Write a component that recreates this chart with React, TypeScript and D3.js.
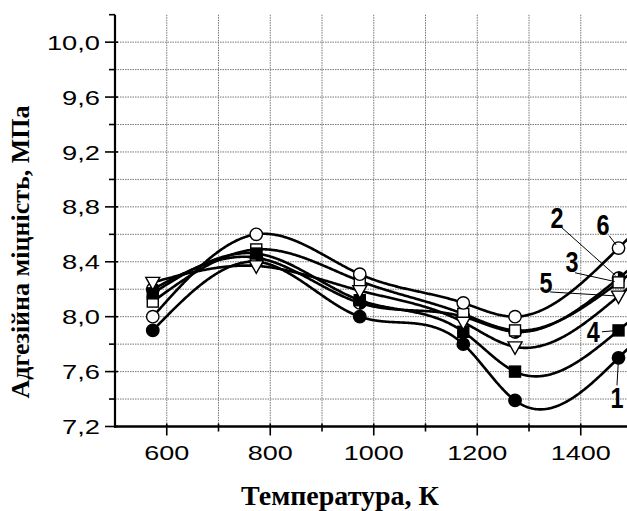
import { useEffect, useRef } from 'react'
import * as d3 from 'd3'

// temperatures, K
const temperatures = [573, 773, 973, 1173, 1273, 1473]

// adhesion strength, MPa (curves 1..6)
const curve1 = [7.9, 8.4, 8.0, 7.8, 7.39, 7.7]
const curve2 = [8.2, 8.43, 8.1, 8.0, 7.89, 8.28]
const curve3 = [8.11, 8.49, 8.26, 8.02, 7.9, 8.25]
const curve4 = [8.17, 8.46, 8.12, 7.89, 7.6, 7.9]
const curve5 = [8.25, 8.37, 8.19, 7.96, 7.78, 8.15]
const curve6 = [8.0, 8.6, 8.31, 8.1, 8.0, 8.5]

const curveNames = ['1', '2', '3', '4', '5', '6']
const markerKinds = ['dot', 'half', 'square', 'filledSquare', 'triangle', 'circle']

const xTickValues = [600, 800, 1000, 1200, 1400]
const yTickValues = [7.2, 7.6, 8.0, 8.4, 8.8, 9.2, 9.6, 10.0]

// curve number labels: text centre and start of the leader line, in data units
const labelT = [1470, 1354, 1383, 1424, 1333, 1443]
const labelV = [7.41, 8.72, 8.40, 7.89, 8.25, 8.67]
const leaderT = [1470, 1360, 1389, 1441, 1341, 1455]
const leaderV = [7.5, 8.66, 8.32, 7.89, 8.18, 8.59]

const xTitle = 'Температура, К'
const yTitle = 'Адгезійна міцність, МПа'

const W = 627
const H = 511

// natural cubic spline y(x) through the measured points (smoothed line like Origin)
function naturalSpline(xs: number[], ys: number[]) {
  const n = xs.length
  const h = d3.range(n - 1).map(i => xs[i + 1] - xs[i])
  const a = new Array(n).fill(0)
  const b = new Array(n).fill(1)
  const c = new Array(n).fill(0)
  const r = new Array(n).fill(0)
  for (let i = 1; i < n - 1; i++) {
    a[i] = h[i - 1]
    b[i] = 2 * (h[i - 1] + h[i])
    c[i] = h[i]
    r[i] = 6 * ((ys[i + 1] - ys[i]) / h[i] - (ys[i] - ys[i - 1]) / h[i - 1])
  }
  // Thomas algorithm
  for (let i = 1; i < n; i++) {
    const m = a[i] / b[i - 1]
    b[i] -= m * c[i - 1]
    r[i] -= m * r[i - 1]
  }
  const M = new Array(n).fill(0)
  M[n - 1] = r[n - 1] / b[n - 1]
  for (let i = n - 2; i >= 0; i--) M[i] = (r[i] - c[i] * M[i + 1]) / b[i]

  return (t: number) => {
    if (t >= xs[n - 1]) {
      const k = n - 2
      const slope = (ys[k + 1] - ys[k]) / h[k] + h[k] * (M[k] + 2 * M[k + 1]) / 6
      return ys[n - 1] + slope * (t - xs[n - 1])
    }
    let i = 0
    while (i < n - 2 && t > xs[i + 1]) i++
    const A = (xs[i + 1] - t) / h[i]
    const B = (t - xs[i]) / h[i]
    return A * ys[i] + B * ys[i + 1] +
      ((A * A * A - A) * M[i] + (B * B * B - B) * M[i + 1]) * h[i] * h[i] / 6
  }
}

export default function App() {
  const svgRef = useRef<SVGSVGElement>(null)

  useEffect(() => {
    if (!svgRef.current) return
    const svg = d3.select(svgRef.current)
    svg.selectAll('*').remove()

    const x = d3.scaleLinear().domain([500, 1500]).range([115, 632.5])
    const y = d3.scaleLinear().domain([7.2, 10.2]).range([426.5, 14.7])

    const series = [curve1, curve2, curve3, curve4, curve5, curve6].map((vals, i) => ({
      name: curveNames[i],
      kind: markerKinds[i],
      values: vals,
      points: vals.map((v, j) => [temperatures[j], v] as [number, number]),
    }))

    svg.append('rect').attr('width', W).attr('height', H).attr('fill', '#fff')

    // grid
    const grid = svg.append('g')
      .attr('stroke', '#777')
      .attr('stroke-width', 1)
      .attr('stroke-dasharray', '1.5,1')
    d3.range(600, 1500, 100).forEach(t => {
      grid.append('line')
        .attr('x1', x(t)).attr('x2', x(t))
        .attr('y1', y(10.2)).attr('y2', y(7.2))
    })
    d3.range(1, 15).map(k => 7.2 + k * 0.2).forEach(v => {
      grid.append('line')
        .attr('x1', x(500)).attr('x2', W)
        .attr('y1', y(v)).attr('y2', y(v))
    })

    // axes
    const axes = svg.append('g').attr('stroke', '#000')
    axes.append('line')
      .attr('x1', x(500)).attr('x2', x(500))
      .attr('y1', y(10.2)).attr('y2', y(7.2) + 1)
      .attr('stroke-width', 2.2)
    axes.append('line')
      .attr('x1', x(500) - 1).attr('x2', W)
      .attr('y1', y(7.2)).attr('y2', y(7.2))
      .attr('stroke-width', 2.5)

    d3.range(0, 16).map(k => 7.2 + k * 0.2).forEach((v, k) => {
      const major = k % 2 === 0
      axes.append('line')
        .attr('x1', x(500) - (major ? 10 : 6)).attr('x2', x(500) + (major ? 3 : 0))
        .attr('y1', y(v)).attr('y2', y(v))
        .attr('stroke-width', 1.6)
    })
    d3.range(600, 1500, 100).forEach((t, k) => {
      const major = k % 2 === 0
      axes.append('line')
        .attr('x1', x(t)).attr('x2', x(t))
        .attr('y1', y(7.2) - 3).attr('y2', y(7.2) + (major ? 9 : 5))
        .attr('stroke-width', 1.6)
    })

    const fmt = (v: number) => d3.format('.1f')(v).replace('.', ',')
    const tickFont = '"Liberation Sans", Arial, sans-serif'

    svg.append('g')
      .selectAll('text')
      .data(yTickValues)
      .enter().append('text')
      .attr('transform', d => `translate(${x(500) - 15},${y(d)}) scale(1.3,1)`)
      .attr('dy', '0.36em')
      .attr('text-anchor', 'end')
      .style('font-family', tickFont)
      .style('font-size', '21px')
      .text(d => fmt(d))

    svg.append('g')
      .selectAll('text')
      .data(xTickValues)
      .enter().append('text')
      .attr('transform', d => `translate(${x(d)},${y(7.2) + 33}) scale(1.35,1)`)
      .attr('text-anchor', 'middle')
      .style('font-family', tickFont)
      .style('font-size', '20px')
      .text(d => String(d))

    // axis titles
    const titleFont = '"Liberation Serif", "Times New Roman", serif'
    svg.append('text')
      .attr('x', 340)
      .attr('y', 505)
      .attr('text-anchor', 'middle')
      .style('font-family', titleFont)
      .style('font-weight', 'bold')
      .style('font-size', '28px')
      .text(xTitle)

    svg.append('text')
      .attr('transform', 'translate(29,252) rotate(-90)')
      .attr('text-anchor', 'middle')
      .style('font-family', titleFont)
      .style('font-weight', 'bold')
      .style('font-size', '26px')
      .text(yTitle)

    // curves
    const line = d3.line<[number, number]>()
      .x(d => x(d[0]))
      .y(d => y(d[1]))

    const first = temperatures[0]
    const last = 1500
    series.forEach(s => {
      const f = naturalSpline(temperatures, s.values)
      const pts: [number, number][] = d3.range(first, last, 2).map(t => [t, f(t)])
      pts.push([last, f(last)])
      svg.append('path')
        .attr('d', line(pts))
        .attr('fill', 'none')
        .attr('stroke', '#000')
        .attr('stroke-width', 2.6)
        .attr('stroke-linejoin', 'round')
    })

    // markers
    const mk = svg.append('g').attr('stroke', '#000').attr('stroke-width', 1.4)
    series.forEach(s => {
      s.points.forEach(p => {
        const cx = x(p[0])
        const cy = y(p[1])
        if (s.kind === 'dot' || s.kind === 'circle') {
          mk.append('circle')
            .attr('cx', cx).attr('cy', cy).attr('r', 6.2)
            .attr('fill', s.kind === 'dot' ? '#000' : '#fff')
        } else if (s.kind === 'half') {
          mk.append('circle')
            .attr('cx', cx).attr('cy', cy).attr('r', 6.2)
            .attr('fill', '#fff')
          mk.append('path')
            .attr('d', `M${cx},${cy - 6.2}A6.2,6.2 0 0 1 ${cx},${cy + 6.2}Z`)
            .attr('fill', '#000')
        } else if (s.kind === 'square' || s.kind === 'filledSquare') {
          mk.append('rect')
            .attr('x', cx - 5.5).attr('y', cy - 5.5)
            .attr('width', 11).attr('height', 11)
            .attr('fill', s.kind === 'filledSquare' ? '#000' : '#fff')
        } else {
          mk.append('path')
            .attr('d', `M${cx - 7},${cy - 5}L${cx + 7},${cy - 5}L${cx},${cy + 7.5}Z`)
            .attr('fill', '#fff')
        }
      })
    })

    // curve number labels with leader lines
    const lastIdx = temperatures.length - 1
    series.forEach((s, i) => {
      const endX = x(temperatures[lastIdx])
      const endY = y(s.values[lastIdx])
      const sx = x(leaderT[i])
      const sy = y(leaderV[i])
      const dx = endX - sx
      const dy = endY - sy
      const len = Math.hypot(dx, dy) || 1
      svg.append('line')
        .attr('x1', sx).attr('y1', sy)
        .attr('x2', endX - dx / len * 4).attr('y2', endY - dy / len * 4)
        .attr('stroke', '#000')
        .attr('stroke-width', 1)
      svg.append('text')
        .attr('transform', `translate(${x(labelT[i])},${y(labelV[i])}) scale(0.9,1.1)`)
        .attr('dy', '0.36em')
        .attr('text-anchor', 'middle')
        .style('font-family', tickFont)
        .style('font-weight', 'bold')
        .style('font-size', '26px')
        .text(s.name)
    })
  }, [])

  return (
    <svg
      ref={svgRef}
      width={W}
      height={H}
      style={{ position: 'absolute', left: 0, top: 0, display: 'block' }}
    />
  )
}
